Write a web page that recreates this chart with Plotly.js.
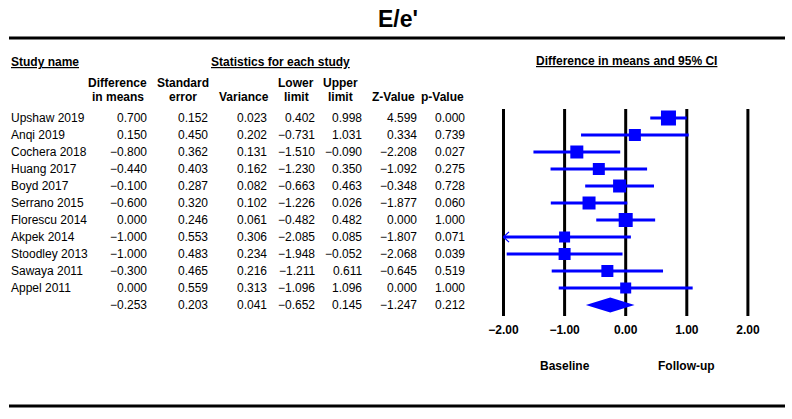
<!DOCTYPE html>
<html>
<head>
<meta charset="utf-8">
<script src="https://cdn.plot.ly/plotly-3.0.1.min.js"></script>
<style>html,body{margin:0;padding:0;background:#fff;}#chart{width:792px;height:419px;}</style>
</head>
<body>
<div id="chart"></div>
<script>
// ---------- data ----------
const studies = ["Upshaw 2019","Anqi 2019","Cochera 2018","Huang 2017","Boyd 2017","Serrano 2015","Florescu 2014","Akpek 2014","Stoodley 2013","Sawaya 2011","Appel 2011"];
const diffMeans = [0.700, 0.150, -0.800, -0.440, -0.100, -0.600, 0.000, -1.000, -1.000, -0.300, 0.000];
const stdErr    = [0.152, 0.450, 0.362, 0.403, 0.287, 0.320, 0.246, 0.553, 0.483, 0.465, 0.559];
const variance  = [0.023, 0.202, 0.131, 0.162, 0.082, 0.102, 0.061, 0.306, 0.234, 0.216, 0.313];
const lowerLim  = [0.402, -0.731, -1.510, -1.230, -0.663, -1.226, -0.482, -2.085, -1.948, -1.211, -1.096];
const upperLim  = [0.998, 1.031, -0.090, 0.350, 0.463, 0.026, 0.482, 0.085, -0.052, 0.611, 1.096];
const zValue    = [4.599, 0.334, -2.208, -1.092, -0.348, -1.877, 0.000, -1.807, -2.068, -0.645, 0.000];
const pValue    = [0.000, 0.739, 0.027, 0.275, 0.728, 0.060, 1.000, 0.071, 0.039, 0.519, 1.000];
const summaryRow = {diff: -0.253, se: 0.203, variance: 0.041, lower: -0.652, upper: 0.145, z: -1.247, p: 0.212};
const tickVals = [-2, -1, 0, 1, 2];
const tickLabels = ["−2.00", "−1.00", "0.00", "1.00", "2.00"];

// ---------- style ----------
const markerSizes = [15, 12, 13, 12, 13, 13, 14, 11, 12, 12, 11];
const BLUE = "#0000FF";
const FONT = "Arial, 'Liberation Sans', sans-serif";
const W = 792, H = 419;
const ROW0 = 118, ROWH = 17;           // pixel y of first row, row step
const XMIN = -2, XMAX = 2;             // plotted limits (beyond -> arrow)
const PX_UNIT = 61.1, X0PX = 625.7;    // forest scale

const rowOf = px => (px - ROW0) / ROWH;
const px2paper = px => px / W;
const fmt = v => v.toFixed(3).replace("-", "−");

const annotations = [];
function txt(text, xpx, ypx, anchor, size, bold, yIsRow) {
  annotations.push({
    text: bold ? "<b>" + text + "</b>" : text,
    xref: "paper", yref: "y",
    x: px2paper(xpx), y: yIsRow ? ypx : rowOf(ypx),
    xanchor: anchor, yanchor: "middle",
    showarrow: false, borderpad: 0,
    font: {family: FONT, size: size, color: "#000"}
  });
}

// headers
txt("<u>Study name</u>", 10, 62, "left", 12, true);
txt("<u>Statistics for each study</u>", 280, 62, "center", 12, true);
txt("<u>Difference in means and 95% CI</u>", 626, 61, "center", 12, true);
const colHeads = [
  ["Difference", "in means", 118],
  ["Standard", "error", 183],
  ["", "Variance", 244],
  ["Lower", "limit", 296],
  ["Upper", "limit", 340],
  ["", "Z-Value", 393],
  ["", "p-Value", 442]
];
colHeads.forEach(h => {
  if (h[0]) txt(h[0], h[2], 83, "center", 12, true);
  txt(h[1], h[2], 97, "center", 12, true);
});

// table values
const colRight = [147, 208, 267, 315, 362, 417, 465];
const cols = [diffMeans, stdErr, variance, lowerLim, upperLim, zValue, pValue];
studies.forEach((s, i) => {
  txt(s, 10, i, "left", 12, false, true);
  cols.forEach((c, j) => txt(fmt(c[i]), colRight[j] + 1, i, "right", 12, false, true));
});
const sumIdx = studies.length;
[summaryRow.diff, summaryRow.se, summaryRow.variance, summaryRow.lower, summaryRow.upper, summaryRow.z, summaryRow.p]
  .forEach((v, j) => txt(fmt(v), colRight[j] + 1, sumIdx, "right", 12, false, true));

// Baseline / Follow-up
[["Baseline", -1], ["Follow-up", 1]].forEach(([t, xv]) => {
  annotations.push({text: "<b>" + t + "</b>", xref: "x", yref: "y", x: xv, y: rowOf(366),
    showarrow: false, xanchor: "center", yanchor: "middle", font: {family: FONT, size: 12, color: "#000"}});
});
// title
annotations.push({text: "<b>E/e'</b>", xref: "paper", yref: "paper", x: px2paper(398), y: 1 - 19 / H,
  xanchor: "center", yanchor: "middle", showarrow: false, font: {family: FONT, size: 23, color: "#000"}});

// ---------- traces ----------
const ciX = [], ciY = [];
const arrowX = [], arrowY = [];
studies.forEach((s, i) => {
  const lo = Math.max(lowerLim[i], XMIN), hi = Math.min(upperLim[i], XMAX);
  ciX.push(lo, hi, null); ciY.push(i, i, null);
  if (lowerLim[i] < XMIN) { arrowX.push(XMIN + 0.09, XMIN, XMIN + 0.09, null); arrowY.push(i - 0.3, i, i + 0.3, null); }
  if (upperLim[i] > XMAX) { arrowX.push(XMAX - 0.09, XMAX, XMAX - 0.09, null); arrowY.push(i - 0.3, i, i + 0.3, null); }
});

const traces = [
  {type: "scatter", mode: "lines", x: ciX, y: ciY, line: {color: BLUE, width: 3}, hoverinfo: "skip", cliponaxis: false},
  {type: "scatter", mode: "lines", x: arrowX, y: arrowY, line: {color: BLUE, width: 1.2}, hoverinfo: "skip", cliponaxis: false},
  {type: "scatter", mode: "markers", x: diffMeans, y: studies.map((s, i) => i),
   marker: {symbol: "square", size: markerSizes, color: BLUE, opacity: 1, line: {width: 0}}, hoverinfo: "skip"},
  {type: "scatter", mode: "lines", fill: "toself", fillcolor: BLUE,
   x: [summaryRow.lower, summaryRow.diff, summaryRow.upper, summaryRow.diff, summaryRow.lower],
   y: [sumIdx, sumIdx - 0.44, sumIdx, sumIdx + 0.44, sumIdx],
   line: {color: BLUE, width: 0}, hoverinfo: "skip"}
];

// ---------- shapes ----------
const shapes = [];
tickVals.forEach(v => shapes.push({type: "line", xref: "x", yref: "y", x0: v, x1: v,
  y0: rowOf(109), y1: rowOf(316), line: {color: "#000", width: 3}, layer: "below"}));
[38, 406].forEach(py => shapes.push({type: "line", xref: "paper", yref: "paper",
  x0: 9 / W, x1: 785 / W, y0: 1 - py / H, y1: 1 - py / H, line: {color: "#000", width: 3}}));

const xr = 2.2;
const layout = {
  width: W, height: H,
  margin: {l: 0, r: 0, t: 0, b: 0, pad: 0},
  paper_bgcolor: "#fff", plot_bgcolor: "rgba(0,0,0,0)",
  showlegend: false,
  xaxis: {
    domain: [(X0PX - xr * PX_UNIT) / W, (X0PX + xr * PX_UNIT) / W],
    range: [-xr, xr], anchor: "free", position: 1 - 321 / H,
    showgrid: false, zeroline: false, showline: false, ticks: "",
    tickmode: "array", tickvals: tickVals, ticktext: tickLabels.map(t => "<b>" + t + "</b>"),
    tickfont: {family: FONT, size: 12, color: "#000"}, fixedrange: true
  },
  yaxis: {
    domain: [0, 1], range: [rowOf(H), rowOf(0)], visible: false, fixedrange: true
  },
  shapes: shapes,
  annotations: annotations
};

Plotly.newPlot("chart", traces, layout, {displayModeBar: false, staticPlot: true});
</script>
</body>
</html>
